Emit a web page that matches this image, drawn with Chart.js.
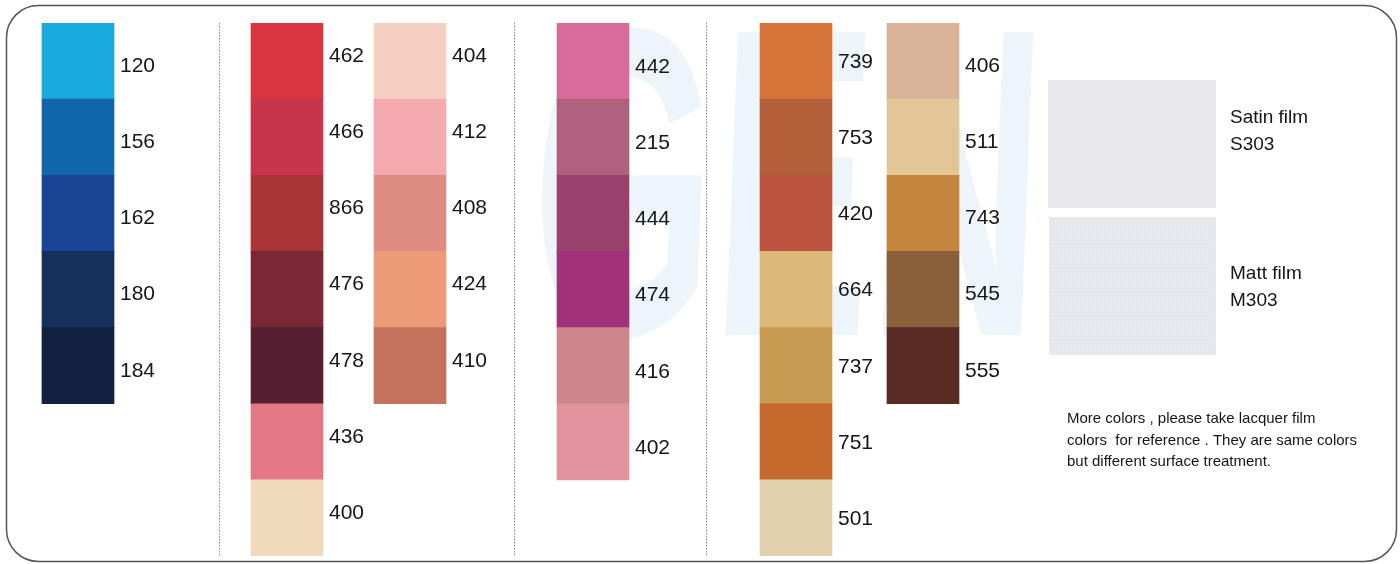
<!DOCTYPE html>
<html lang="en">
<head>
<meta charset="UTF-8">
<title>Colour chart</title>
<script src="https://cdn.jsdelivr.net/npm/chart.js"></script>
<style>
  html, body { margin: 0; padding: 0; background: #fff; }
  #wrap { width: 1400px; height: 564px; position: relative; }
</style>
</head>
<body>
<div id="wrap"><canvas id="swatches"></canvas></div>
<script>
// colour codes, one list per column
const codes1 = ['120', '156', '162', '180', '184'];
const codes2 = ['462', '466', '866', '476', '478', '436', '400'];
const codes3 = ['404', '412', '408', '424', '410'];
const codes4 = ['442', '215', '444', '474', '416', '402'];
const codes5 = ['739', '753', '420', '664', '737', '751', '501'];
const codes6 = ['406', '511', '743', '545', '555'];

// swatch colours, same order
const colors1 = ['#1aa9dc', '#1167aa', '#1a4494', '#16305e', '#132141'];
const colors2 = ['#d9363f', '#c8344c', '#ab3438', '#7b2834', '#551f31', '#e47884', '#f1dabb'];
const colors3 = ['#f5d0c0', '#f3a9ae', '#de8c82', '#ed9a78', '#c4725c'];
const colors4 = ['#d66c9c', '#ae607c', '#99406c', '#a0327a', '#cc868c', '#e2929c'];
const colors5 = ['#d7743a', '#b25f3a', '#bd5440', '#dcb978', '#c99a52', '#c76a2e', '#e3d1b0'];
const colors6 = ['#d8b298', '#e3c698', '#c4853e', '#8a603a', '#5a2a25'];

const filmNames = [['Satin film', 'S303'], ['Matt film', 'M303']];
const note = [
  'More colors , please take lacquer film',
  'colors  for reference . They are same colors',
  'but different surface treatment.'
];

// layout: column centres in px, label baseline offset from swatch top
const columnX = [78, 287, 410, 593, 796, 923];
const labelDrop = [49, 39, 39, 50, 45, 49];
const separators = [219, 514, 706];

const columns = [
  [codes1, colors1], [codes2, colors2], [codes3, colors3],
  [codes4, colors4], [codes5, colors5], [codes6, colors6]
];

const datasets = columns.map(([codes, colors], c) => ({
  label: 'col' + (c + 1),
  data: codes.map((code, i) => ({ x: columnX[c], y: [i, i + 1], code: code })),
  backgroundColor: colors,
  borderWidth: 0,
  barThickness: 72,
  grouped: false
}));

const framePlugin = {
  id: 'frame',
  beforeDatasetsDraw(chart) {
    const ctx = chart.ctx;
    const area = chart.chartArea;
    ctx.save();
    // faint GEN watermark
    ctx.save();
    ctx.fillStyle = 'rgba(200,222,240,0.3)';
    ctx.font = 'bold 440px "Liberation Sans", Arial, sans-serif';
    ctx.transform(0.535, 0, -0.04, 1, 0, 0);
    ctx.fillText('GEN', 1010, 335);
    ctx.restore();
    // rounded outline
    ctx.strokeStyle = '#555';
    ctx.lineWidth = 1.5;
    ctx.beginPath();
    ctx.roundRect(6.5, 5.5, 1390, 556, 32);
    ctx.stroke();
    // dotted separators
    ctx.strokeStyle = '#888';
    ctx.lineWidth = 1;
    ctx.setLineDash([1.5, 1.5]);
    separators.forEach(x => {
      ctx.beginPath();
      ctx.moveTo(x + 0.5, area.top);
      ctx.lineTo(x + 0.5, area.bottom);
      ctx.stroke();
    });
    ctx.setLineDash([]);
    // film samples
    ctx.fillStyle = '#e6e6eb';
    ctx.fillRect(1048, 80, 168, 128);
    ctx.fillStyle = '#e5e7ec';
    ctx.fillRect(1049, 217, 167, 138);
    ctx.fillStyle = 'rgba(255,255,255,0.5)';
    for (let yy = 218; yy < 355; yy += 3) {
      for (let xx = 1050 + (yy % 2); xx < 1215; xx += 4) {
        ctx.fillRect(xx, yy, 1, 1);
      }
    }
    ctx.restore();
  },
  afterDatasetsDraw(chart) {
    const ctx = chart.ctx;
    ctx.save();
    ctx.fillStyle = '#151515';
    ctx.font = '21px "Liberation Sans", Arial, sans-serif';
    ctx.textBaseline = 'alphabetic';
    chart.data.datasets.forEach((ds, c) => {
      const meta = chart.getDatasetMeta(c);
      meta.data.forEach((bar, i) => {
        const top = Math.min(bar.y, bar.base);
        ctx.fillText(ds.data[i].code, bar.x + bar.width / 2 + 6, top + labelDrop[c]);
      });
    });
    ctx.font = '19px "Liberation Sans", Arial, sans-serif';
    ctx.fillText(filmNames[0][0], 1230, 123);
    ctx.fillText(filmNames[0][1], 1230, 150);
    ctx.fillText(filmNames[1][0], 1230, 279);
    ctx.fillText(filmNames[1][1], 1230, 306);
    ctx.font = '15px "Liberation Sans", Arial, sans-serif';
    note.forEach((line, i) => ctx.fillText(line, 1067, 423 + i * 21.5));
    ctx.restore();
  }
};

new Chart(document.getElementById('swatches'), {
  type: 'bar',
  data: { datasets: datasets },
  options: {
    responsive: true,
    maintainAspectRatio: false,
    animation: false,
    layout: { padding: { top: 23, bottom: 8, left: 0, right: 0 } },
    scales: {
      x: { type: 'linear', min: 0, max: 1400, offset: false, display: false },
      y: { type: 'linear', min: 0, max: 7, reverse: true, display: false }
    },
    plugins: {
      legend: { display: false },
      tooltip: { enabled: false }
    }
  },
  plugins: [framePlugin]
});
</script>
</body>
</html>
